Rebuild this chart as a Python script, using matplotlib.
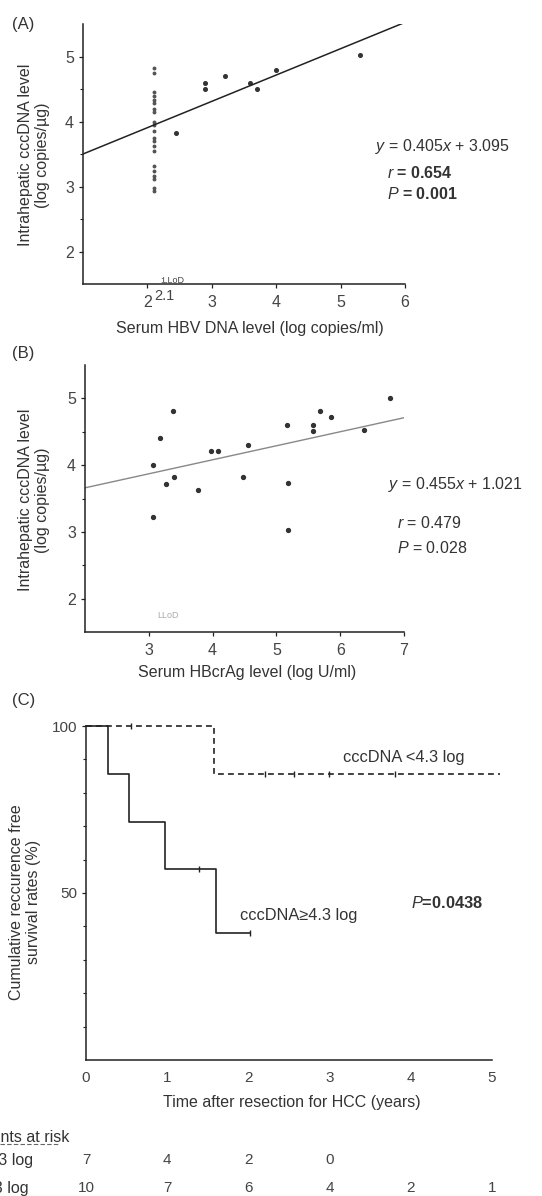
# three-panel figure: cccDNA vs serum HBV DNA, vs HBcrAg, and recurrence-free survival
import matplotlib.pyplot as plt
from matplotlib.lines import Line2D
from matplotlib.transforms import blended_transform_factory

plt.rcParams['font.family'] = ['Liberation Sans', 'DejaVu Sans']
plt.rcParams['mathtext.fontset'] = 'custom'
plt.rcParams['mathtext.rm'] = 'Liberation Sans'
plt.rcParams['mathtext.it'] = 'Liberation Sans:italic'
plt.rcParams['mathtext.bf'] = 'Liberation Sans:bold'

TXT = '#333333'
INK = '#222222'

# panel A: serum HBV DNA (log copies/ml) vs intrahepatic cccDNA
a_lod_y = [4.82, 4.75, 4.46, 4.40, 4.33, 4.28, 4.20, 4.14, 4.00, 3.94, 3.86,
           3.74, 3.70, 3.63, 3.55, 3.32, 3.24, 3.16, 3.11, 2.97, 2.93]
a_lod_x = 2.1
a_x = [2.45, 2.9, 2.9, 3.2, 3.6, 3.7, 4.0, 5.3]
a_y = [3.82, 4.60, 4.50, 4.70, 4.60, 4.50, 4.80, 5.02]
a_slope, a_icpt = 0.405, 3.095

# panel B: serum HBcrAg (log U/ml) vs intrahepatic cccDNA
b_x = [3.38, 3.17, 3.06, 3.39, 3.27, 3.77, 3.06, 3.98, 4.09, 4.56, 4.47,
       5.17, 5.18, 5.18, 5.57, 5.57, 5.68, 5.86, 6.37, 6.78]
b_y = [4.81, 4.40, 4.00, 3.82, 3.72, 3.62, 3.23, 4.21, 4.21, 4.30, 3.82,
       4.60, 3.73, 3.03, 4.60, 4.51, 4.81, 4.72, 4.53, 5.01]
b_slope, b_icpt = 0.21, 3.24  # line as drawn in the figure

# panel C: Kaplan-Meier curves
hi_t = [0, 0.27, 0.53, 0.97, 1.60, 2.02]
hi_s = [100, 85.7, 71.4, 57.1, 38.1, 38.1]
hi_cens_t = [1.39, 2.02]
hi_cens_s = [57.1, 38.1]
lo_t = [0, 1.58, 5.1]
lo_s = [100, 85.7, 85.7]
lo_cens_t = [0.55, 2.2, 2.56, 2.99, 3.8]
lo_cens_s = [100, 85.7, 85.7, 85.7, 85.7]

risk_times = [0, 1, 2, 3, 4, 5]
risk_hi = [7, 4, 2, 0]
risk_lo = [10, 7, 6, 4, 2, 1]

fig = plt.figure(figsize=(5.42, 11.96), dpi=100)


def style_axes(ax, size):
    ax.spines['top'].set_visible(False)
    ax.spines['right'].set_visible(False)
    for s in ('left', 'bottom'):
        ax.spines[s].set_color(INK)
        ax.spines[s].set_linewidth(1.1)
    ax.tick_params(direction='out', length=3, width=0.9, colors=INK,
                   labelcolor='#444444', labelsize=size)
    ax.tick_params(which='minor', length=2, width=0.8, colors=INK)


# ---------- (A)
axA = fig.add_axes([83 / 542, 1 - 284 / 1196, 322 / 542, 260 / 1196])
style_axes(axA, 11.5)
axA.set_xlim(1, 6)
axA.set_ylim(1.5, 5.5)
axA.set_xticks([2, 3, 4, 5, 6])
axA.set_yticks([2, 3, 4, 5])
axA.set_yticks([2.5, 3.5, 4.5], minor=True)
axA.tick_params(axis='x', pad=5)
axA.plot([a_lod_x] * len(a_lod_y), a_lod_y, 'o', ms=1.8, color='#555555', ls='none')
axA.plot(a_x, a_y, 'o', ms=2.6, color=TXT, ls='none')
axA.plot([1, 6], [a_slope * 1 + a_icpt, a_slope * 6 + a_icpt], color=INK, lw=1.1)
axA.text(2.2, 1.56, ':LLoD', fontsize=6.5, color='#444444', va='center')
tA = blended_transform_factory(axA.transData, axA.transAxes)
axA.text(2.1, -0.045, '2.1', transform=tA, fontsize=10.5, color='#444444',
         ha='left', va='center')
fig.text(0.022, 1 - 25 / 1196, '(A)', fontsize=12, color=TXT, va='center')
fig.text(34 / 542, 1 - 155 / 1196, 'Intrahepatic cccDNA level\n(log copies/µg)',
         rotation=90, ha='center', va='center', multialignment='center',
         fontsize=11.5, color=TXT, linespacing=1.1)
fig.text(250 / 542, 1 - 329 / 1196, 'Serum HBV DNA level (log copies/ml)',
         ha='center', va='center', fontsize=11.5, color=TXT)
fig.text(375 / 542, 1 - 147 / 1196, r'$y$ = 0.405$x$ + 3.095',
         fontsize=11.5, color=TXT, va='center')
fig.text(387 / 542, 1 - 173 / 1196, r'$\mathbf{\it{r}}$ = 0.654',
         fontsize=11.5, color=TXT, va='center', fontweight='bold')
fig.text(387 / 542, 1 - 194 / 1196, r'$\mathbf{\it{P}}$ = 0.001',
         fontsize=11.5, color=TXT, va='center', fontweight='bold')

# ---------- (B)
axB = fig.add_axes([85 / 542, 1 - 632 / 1196, 319 / 542, 267 / 1196])
style_axes(axB, 11.5)
axB.set_xlim(2, 7)
axB.set_ylim(1.5, 5.5)
axB.set_xticks([3, 4, 5, 6, 7])
axB.set_yticks([2, 3, 4, 5])
axB.set_yticks([2.5, 3.5, 4.5], minor=True)
axB.tick_params(axis='x', pad=5)
axB.plot(b_x, b_y, 'o', ms=2.8, color=TXT, ls='none')
axB.plot([2, 7], [b_slope * 2 + b_icpt, b_slope * 7 + b_icpt],
         color='#888888', lw=1.0)
axB.text(3.13, 1.74, 'LLoD', fontsize=6.5, color='#aaaaaa', va='center')
fig.text(0.022, 1 - 353 / 1196, '(B)', fontsize=12, color=TXT, va='center')
fig.text(34 / 542, 1 - 500 / 1196, 'Intrahepatic cccDNA level\n(log copies/µg)',
         rotation=90, ha='center', va='center', multialignment='center',
         fontsize=11.5, color=TXT, linespacing=1.1)
fig.text(247 / 542, 1 - 673 / 1196, 'Serum HBcrAg level (log U/ml)',
         ha='center', va='center', fontsize=11.5, color=TXT)
fig.text(388 / 542, 1 - 485 / 1196, r'$y$ = 0.455$x$ + 1.021',
         fontsize=11.5, color=TXT, va='center')
fig.text(397 / 542, 1 - 523 / 1196, r'$r$ = 0.479',
         fontsize=11.5, color=TXT, va='center')
fig.text(397 / 542, 1 - 548 / 1196, r'$P$ = 0.028',
         fontsize=11.5, color=TXT, va='center')

# ---------- (C)
axC = fig.add_axes([86 / 542, 1 - 1060 / 1196, 406 / 542, 334 / 1196])
style_axes(axC, 11)
axC.set_xlim(0, 5)
axC.set_ylim(0, 100)
axC.set_xticks(risk_times)
axC.set_yticks([50, 100])
axC.set_yticks([10, 20, 30, 40, 60, 70, 80, 90], minor=True)
axC.tick_params(axis='x', length=0, pad=8)
axC.step(hi_t, hi_s, where='post', color=INK, lw=1.2, clip_on=False)
axC.plot(hi_cens_t, hi_cens_s, '|', ms=4, color=INK, ls='none')
axC.step(lo_t, lo_s, where='post', color=INK, lw=1.2, ls=(0, (3.5, 2.5)),
         clip_on=False)
axC.plot(lo_cens_t, lo_cens_s, '|', ms=4, color=INK, ls='none', clip_on=False)
axC.text(3.16, 90.7, 'cccDNA <4.3 log', fontsize=11.8, color=TXT, va='center')
axC.text(1.9, 43.4, 'cccDNA≥4.3 log', fontsize=11.8, color=TXT, va='center')
axC.text(4.0, 47, r'$\mathbf{\it{P}}$=0.0438', fontsize=11.8, color=TXT,
         va='center', fontweight='bold')
fig.text(0.022, 1 - 700 / 1196, '(C)', fontsize=12, color=TXT, va='center')
fig.text(25 / 542, 1 - 902 / 1196, 'Cumulative reccurence free\nsurvival rates (%)',
         rotation=90, ha='center', va='center', multialignment='center',
         fontsize=11.5, color=TXT, linespacing=1.1)
fig.text(292 / 542, 1 - 1103 / 1196, 'Time after resection for HCC (years)',
         ha='center', va='center', fontsize=11.5, color=TXT)

# patients at risk table (row labels run off the left edge, as in the scan)
tC = blended_transform_factory(axC.transData, fig.transFigure)
fig.text(69 / 542, 1 - 1137 / 1196, 'Patients at risk', ha='right', va='center',
         fontsize=11.5, color=TXT)
fig.add_artist(Line2D([0, 60 / 542], [1 - 1144 / 1196] * 2, color='#666666',
                      lw=0.8, ls=(0, (4, 2))))
fig.text(33 / 542, 1 - 1160 / 1196, 'cccDNA ≥4.3 log', ha='right', va='center',
         fontsize=11.5, color=TXT)
fig.text(29 / 542, 1 - 1188 / 1196, 'cccDNA <4.3 log', ha='right', va='center',
         fontsize=11.5, color=TXT)
for t, n in zip(risk_times, risk_hi):
    axC.text(t, 1 - 1160 / 1196, str(n), transform=tC, ha='center', va='center',
             fontsize=11, color='#444444')
for t, n in zip(risk_times, risk_lo):
    axC.text(t, 1 - 1188 / 1196, str(n), transform=tC, ha='center', va='center',
             fontsize=11, color='#444444')

fig.savefig('out.png', dpi=100)
